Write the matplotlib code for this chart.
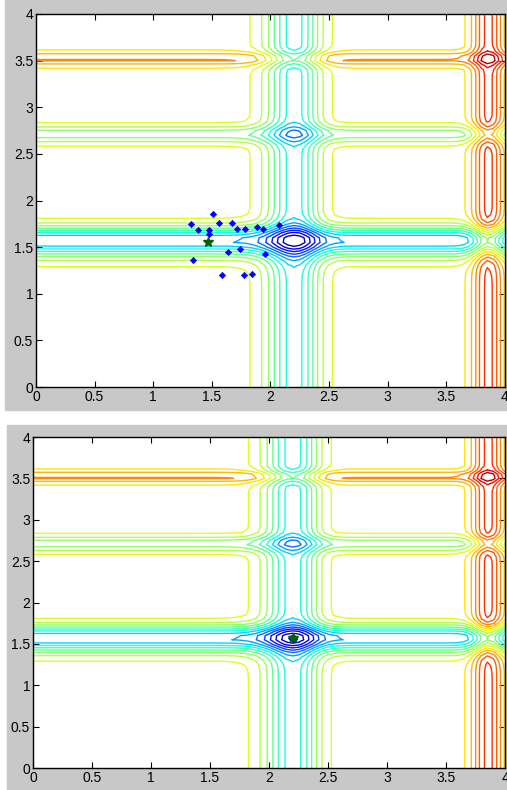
import numpy as np
import matplotlib
matplotlib.use("Agg")
import matplotlib.pyplot as plt
from matplotlib.patches import Rectangle

plt.rcParams['font.family'] = ['Liberation Sans', 'DejaVu Sans']

# Michalewicz surface (m = 10) on the plotted domain
grid_step = 0.05
m_param = 10
n_levels = 20

# swarm at the start (top) and after convergence (bottom)
swarm1_x = [1.512, 1.319, 1.561, 1.669, 1.385, 1.476, 1.476, 1.714, 1.783, 1.888,
            1.939, 2.075, 1.640, 1.743, 1.953, 1.336, 1.584, 1.771, 1.845]
swarm1_y = [1.855, 1.745, 1.759, 1.759, 1.687, 1.680, 1.637, 1.691, 1.691, 1.719,
            1.698, 1.737, 1.451, 1.480, 1.430, 1.358, 1.198, 1.198, 1.209]
best1 = (1.464, 1.551)

swarm2_x = [2.195, 2.205, 2.210, 2.200, 2.190, 2.203, 2.212]
swarm2_y = [1.565, 1.575, 1.560, 1.580, 1.572, 1.555, 1.570]
best2 = (2.203, 1.568)

ticks = [0, 0.5, 1, 1.5, 2, 2.5, 3, 3.5, 4]
tick_labels = ['0', '0.5', '1', '1.5', '2', '2.5', '3', '3.5', '4']


def michalewicz(x, y, m):
    return -(np.sin(x) * np.sin(x ** 2 / np.pi) ** (2 * m)
             + np.sin(y) * np.sin(2 * y ** 2 / np.pi) ** (2 * m))


xs = np.arange(0, 4 + grid_step / 2, grid_step)
X, Y = np.meshgrid(xs, xs)
Z = michalewicz(X, Y, m_param)
zmin, zmax = Z.min(), Z.max()
levels = np.linspace(zmin, zmax, n_levels + 2)[1:-1]

fig = plt.figure(figsize=(5.07, 7.90), dpi=100)
gray = '#c8c8c8'
fig.add_artist(Rectangle((5 / 507, 1 - 410 / 790), 502 / 507, 410 / 790,
                         transform=fig.transFigure, color=gray, zorder=-5))
fig.add_artist(Rectangle((7 / 507, 0), 500 / 507, 365 / 790,
                         transform=fig.transFigure, color=gray, zorder=-5))

ax1 = fig.add_axes([0.0710, 0.5101, 0.925, 0.4722])
ax2 = fig.add_axes([0.0651, 0.0278, 0.931, 0.4190])

panels = [(ax1, swarm1_x, swarm1_y, best1), (ax2, swarm2_x, swarm2_y, best2)]
for ax, sx, sy, best in panels:
    ax.contour(X, Y, Z, levels=levels, cmap='jet', vmin=zmin, vmax=zmax,
               linewidths=1.0)
    ax.plot(sx, sy, 'D', color='#0000ff', markersize=3.2, markeredgewidth=0.5)
    ax.plot(best[0], best[1], '*', color='#006400', markersize=7)
    ax.set_xlim(0, 4)
    ax.set_ylim(0, 4)
    ax.set_xticks(ticks)
    ax.set_xticklabels(tick_labels)
    ax.set_yticks(ticks)
    ax.set_yticklabels(tick_labels)
    ax.tick_params(direction='in', top=True, right=True, length=4,
                   labelsize=10, pad=2)
    for s in ax.spines.values():
        s.set_linewidth(1.0)

fig.savefig('out.png', dpi=100, facecolor='white')
